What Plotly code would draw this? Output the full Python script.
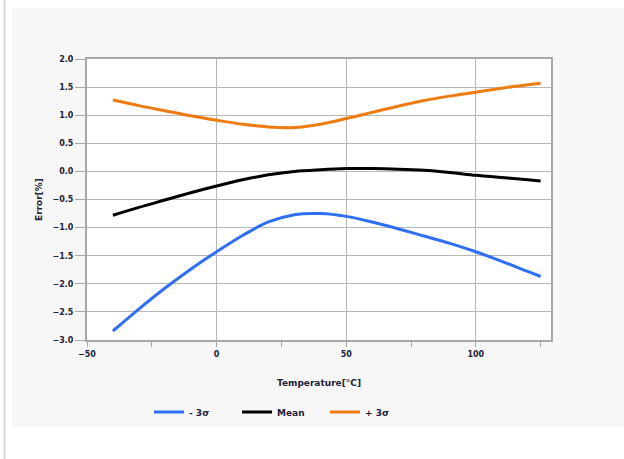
import plotly.graph_objects as go

temperature = [-40, -30, -20, -10, 0, 10, 20, 30, 40, 50, 60, 70, 80, 90, 100, 110, 120, 125]
minus_3sigma = [-2.84, -2.45, -2.08, -1.74, -1.43, -1.14, -0.90, -0.77, -0.75, -0.80,
                -0.90, -1.02, -1.15, -1.28, -1.43, -1.60, -1.78, -1.87]
mean_vals = [-0.78, -0.64, -0.51, -0.38, -0.26, -0.15, -0.06, 0.00, 0.03, 0.05,
             0.05, 0.04, 0.02, -0.02, -0.07, -0.11, -0.15, -0.17]
plus_3sigma = [1.27, 1.17, 1.08, 0.99, 0.91, 0.84, 0.79, 0.78, 0.84, 0.94,
               1.05, 1.16, 1.26, 1.34, 1.41, 1.48, 1.54, 1.57]

series_names = ["- 3σ", "Mean", "+ 3σ"]
series_colors = ["#2f6ff5", "#000000", "#ef7a10"]

W, H = 624, 459
L, R, T, B = 87, 73, 59, 119
pw, ph = W - L - R, H - T - B

def px2x(p):
    return (p - L) / pw

def px2y(p):
    return (H - B - p) / ph

font_family = "DejaVu Sans"
txt = "#22223a"

fig = go.Figure()
for name, vals, col in zip(series_names, [minus_3sigma, mean_vals, plus_3sigma], series_colors):
    fig.add_trace(go.Scatter(
        x=temperature, y=vals, name=name, mode="lines",
        line=dict(color=col, width=3, shape="spline", smoothing=1.0),
    ))

fig.update_layout(
    width=W, height=H,
    margin=dict(l=L, r=R, t=T, b=B),
    paper_bgcolor="white",
    plot_bgcolor="white",
    font=dict(family=font_family, size=8, color=txt),
    showlegend=True,
    legend=dict(
        orientation="h", x=px2x(149), xanchor="left", y=px2y(412), yanchor="middle",
        font=dict(family=font_family, size=9, color=txt, weight="bold"),
        bgcolor="rgba(0,0,0,0)", itemwidth=30, entrywidth=43, entrywidthmode="pixels",
    ),
    shapes=[
        dict(type="rect", xref="paper", yref="paper", layer="below",
             x0=px2x(13), x1=px2x(624), y0=px2y(427), y1=px2y(8),
             fillcolor="#f7f7f7", line=dict(width=0)),
        dict(type="rect", xref="paper", yref="paper", layer="below",
             x0=0, x1=1, y0=0, y1=1,
             fillcolor="white", line=dict(width=0)),
        dict(type="line", xref="paper", yref="paper", layer="below",
             x0=px2x(4.5), x1=px2x(4.5), y0=px2y(459), y1=px2y(0),
             line=dict(color="#d9d9d9", width=2)),
    ],
)

fig.update_xaxes(
    range=[-50, 129], tick0=-50, dtick=50,
    showgrid=True, gridcolor="#b8b8b8", gridwidth=1,
    showline=True, linecolor="#a8a8a8", linewidth=2, mirror=True,
    ticks="outside", ticklen=5, tickcolor="#a8a8a8", tickwidth=1,
    minor=dict(tick0=-50, dtick=25, ticks="outside", ticklen=5, tickcolor="#a8a8a8", showgrid=False),
    zeroline=False,
    tickfont=dict(family=font_family, size=8, color=txt, weight="bold"),
    title=dict(text="Temperature[°C]", standoff=22,
               font=dict(family=font_family, size=9, color=txt, weight="bold")),
)
fig.update_yaxes(
    range=[-3.0, 2.0], tick0=-3.0, dtick=0.5, tickformat=".1f",
    showgrid=True, gridcolor="#b8b8b8", gridwidth=1,
    showline=True, linecolor="#a8a8a8", linewidth=2, mirror=True,
    ticks="outside", ticklen=10, tickcolor="#a8a8a8", tickwidth=1,
    zeroline=False,
    tickfont=dict(family=font_family, size=8, color=txt, weight="bold"),
    title=dict(text="Error[%]", standoff=8,
               font=dict(family=font_family, size=9, color=txt, weight="bold")),
)

fig.write_html("out.html", config={"displayModeBar": False},
               post_script="document.body.style.margin='0';")
